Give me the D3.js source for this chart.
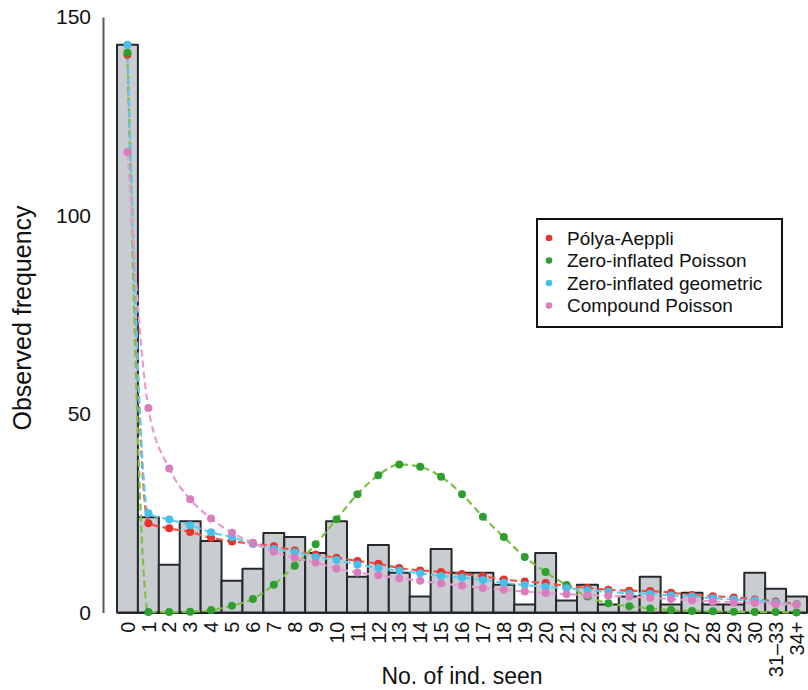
<!DOCTYPE html>
<html>
<head>
<meta charset="utf-8">
<script src="https://cdn.jsdelivr.net/npm/d3@7"></script>
<style>
  body { margin: 0; background: #fff; }
  text { font-family: "Liberation Sans", Arial, Helvetica, sans-serif; }
</style>
</head>
<body>
<div id="chart"></div>
<script>
// categories (no. of individuals seen)
const categories = ["0","1","2","3","4","5","6","7","8","9","10","11","12","13","14","15","16",
  "17","18","19","20","21","22","23","24","25","26","27","28","29","30","31–33","34+"];

// observed frequencies (bars)
const observed = [143,24,12,23,18,8,11,20,19,15,23,9,17,10,4,16,10,10,7,2,15,3,7,2,4,9,2,5,2,2,10,6,4];

// fitted model frequencies
const polyaAeppli = [140.5,22.5,21.2,20.3,18.8,17.9,17.3,16.7,15.6,14.6,13.8,13,12.3,11.2,10.6,10.2,9.7,
  9.1,8.3,7.8,7.4,6.7,6.2,5.7,5.5,5.4,5,4.4,4.1,3.8,3.3,2.8,2.1];
const zip = [141,0.1,0.1,0.2,0.6,1.7,3.4,7,11.8,17.2,23.5,29.8,34.6,37.3,36.7,34.2,29.8,
  24.1,19,14,10.2,6.9,4,2.3,1.6,1,0.6,0.4,0.3,0.2,0.1,0.1,0];
const zig = [143,25,23.4,22,20.2,19,17.3,16,15.2,14,13.2,12.1,11.2,10.5,9.9,9.2,8.8,
  8.2,7.5,6.9,6.5,6.1,5.6,5.2,4.8,4.7,4.3,4,3.6,3.3,3,2.5,2];
const compoundPoisson = [116,51.5,36.3,28.5,23.7,20.1,17.6,15.3,13.8,12.6,11.1,10.1,9.4,8.6,8,7.3,6.8,
  6.2,5.7,5.3,4.9,4.6,4.4,4.2,4,3.7,3.4,3.1,2.8,2.5,2.4,2.1,1.9];

const seriesNames = ["Pólya-Aeppli","Zero-inflated Poisson","Zero-inflated geometric","Compound Poisson"];
const yTicks = [0,50,100,150];

const series = [
  {name: seriesNames[0], values: polyaAeppli, dot: "#e8322d", dash: "#ef5248"},
  {name: seriesNames[1], values: zip, dot: "#2e9f2e", dash: "#7cc242"},
  {name: seriesNames[2], values: zig, dot: "#44c0ea", dash: "#63cbef"},
  {name: seriesNames[3], values: compoundPoisson, dot: "#d97dbf", dash: "#e99bd0"}
];

const W = 808, H = 690;
const margin = {top: 17, right: 1, bottom: 77.5, left: 117},
      width = W - margin.left - margin.right,
      height = H - margin.top - margin.bottom;

const svg = d3.select("#chart")
    .append("svg")
    .attr("width", W)
    .attr("height", H)
    .append("g")
    .attr("transform", `translate(${margin.left},${margin.top})`);

// scales
const x = d3.scaleBand()
    .domain(categories)
    .range([0, width])
    .padding(0);
const y = d3.scaleLinear()
    .domain([0, 150])
    .range([height, 0]);

// bars
svg.selectAll("rect.bar")
    .data(observed)
    .join("rect")
    .attr("class", "bar")
    .attr("x", (d, i) => x(categories[i]))
    .attr("y", d => y(d))
    .attr("width", x.bandwidth())
    .attr("height", d => height - y(d))
    .attr("fill", "#c9cdd1")
    .attr("stroke", "#25292b")
    .attr("stroke-width", 2)
    .attr("stroke-linejoin", "round");

// y axis
const yAxis = svg.append("g")
    .attr("transform", "translate(-14,0)")
    .call(d3.axisLeft(y).tickValues(yTicks).tickSize(0).tickPadding(12));
yAxis.select(".domain")
    .attr("stroke", "#555a5c")
    .attr("stroke-width", 2);
yAxis.selectAll("text")
    .attr("font-size", 21)
    .attr("fill", "#111")
    .style("font-family", "Liberation Sans, Arial, sans-serif");

// x axis
const xAxis = svg.append("g")
    .attr("transform", `translate(0,${height})`)
    .call(d3.axisBottom(x).tickSize(0).tickSizeOuter(0));
xAxis.select(".domain")
    .attr("stroke", "#25292b")
    .attr("stroke-width", 2);
xAxis.selectAll("text")
    .attr("transform", "rotate(-90)")
    .attr("x", -9)
    .attr("y", 0)
    .attr("dy", "0.36em")
    .attr("text-anchor", "end")
    .attr("font-size", 20)
    .attr("fill", "#111")
    .style("font-family", "Liberation Sans, Arial, sans-serif");

// model lines
const line = d3.line()
    .x((d, i) => x(categories[i]) + x.bandwidth() / 2)
    .y(d => y(d))
    .curve(d3.curveMonotoneX);

series.forEach(s => {
  svg.append("path")
      .datum(s.values)
      .attr("fill", "none")
      .attr("stroke", s.dash)
      .attr("stroke-width", 2.2)
      .attr("stroke-dasharray", "7,4")
      .attr("d", line);
});

series.forEach(s => {
  svg.append("g")
    .selectAll("circle")
    .data(s.values)
    .join("circle")
    .attr("cx", (d, i) => x(categories[i]) + x.bandwidth() / 2)
    .attr("cy", d => y(d))
    .attr("r", 4)
    .attr("fill", s.dot);
});

// axis titles
svg.append("text")
    .attr("x", 462 - margin.left)
    .attr("y", height + 71)
    .attr("text-anchor", "middle")
    .attr("font-size", 23)
    .attr("fill", "#111")
    .text("No. of ind. seen");

svg.append("text")
    .attr("transform", "rotate(-90)")
    .attr("x", -(318 - margin.top))
    .attr("y", 31 - margin.left)
    .attr("text-anchor", "middle")
    .attr("font-size", 25)
    .attr("fill", "#111")
    .text("Observed frequency");

// legend
const legend = svg.append("g")
    .attr("transform", `translate(${537 - margin.left},${219 - margin.top})`);
legend.append("rect")
    .attr("width", 245)
    .attr("height", 108)
    .attr("fill", "#fff")
    .attr("stroke", "#111")
    .attr("stroke-width", 2);
const items = legend.selectAll("g.item")
    .data(series)
    .join("g")
    .attr("class", "item")
    .attr("transform", (d, i) => `translate(0,${19 + i * 22.5})`);
items.append("circle")
    .attr("cx", 12)
    .attr("cy", 0)
    .attr("r", 3.3)
    .attr("fill", d => d.dot);
items.append("text")
    .attr("x", 30)
    .attr("y", 0)
    .attr("dy", "0.35em")
    .attr("font-size", 19)
    .attr("fill", "#111")
    .text(d => d.name);
</script>
</body>
</html>
